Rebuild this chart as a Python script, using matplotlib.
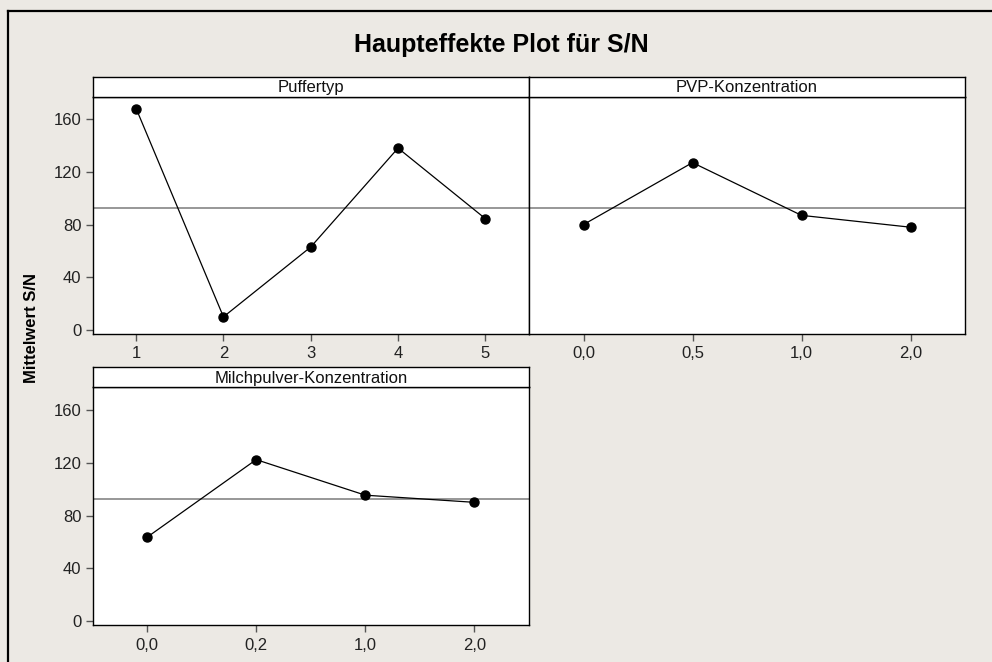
import matplotlib
matplotlib.use('Agg')
import matplotlib.pyplot as plt
import numpy as np
from matplotlib.lines import Line2D

W, H = 992, 662
BG = '#ECE9E4'

# ---- data ----
puffer_labels = ['1', '2', '3', '4', '5']
puffer_values = [168, 10, 63, 138, 84.5]
pvp_labels = ['0,0', '0,5', '1,0', '2,0']
pvp_values = [80, 127, 87, 78]
milch_labels = ['0,0', '0,2', '1,0', '2,0']
milch_values = [63.6, 122.3, 95.4, 90]
grand_mean = 92.6
yticks = [0, 40, 80, 120, 160]
title = 'Haupteffekte Plot für S/N'
ylabel = 'Mittelwert S/N'
panel_titles = ['Puffertyp', 'PVP-Konzentration', 'Milchpulver-Konzentration']

plt.rcParams['font.family'] = ['Liberation Sans', 'DejaVu Sans']

fig = plt.figure(figsize=(W / 100, H / 100), dpi=100, facecolor=BG)


def rect(x0, y0, x1, y1):
    return [x0 / W, 1 - y1 / H, (x1 - x0) / W, (y1 - y0) / H]


YMIN, YMAX = -3, 177

panels = [
    (92.5, 529, 77.3, 96.7, 334, puffer_labels, puffer_values, panel_titles[0], True),
    (529, 965, 77.3, 96.7, 334, pvp_labels, pvp_values, panel_titles[1], False),
    (92.5, 529, 366.7, 387.3, 625.3, milch_labels, milch_values, panel_titles[2], True),
]

for x0, x1, ys0, ys1, yb, labels, values, ptitle, show_y in panels:
    ax = fig.add_axes(rect(x0, ys1, x1, yb))
    ax.set_facecolor('white')
    n = len(values)
    xs = np.arange(n)
    ax.axhline(grand_mean, color='#858585', lw=1.2, zorder=1)
    ax.plot(xs, values, color='black', lw=0.9, marker='o', ms=6.5,
            mfc='black', mec='black', zorder=3)
    ax.set_xlim(-0.5, n - 0.5)
    ax.set_ylim(YMIN, YMAX)
    ax.set_xticks(xs)
    ax.set_xticklabels(labels)
    for sp in ax.spines.values():
        sp.set_color('black')
        sp.set_linewidth(1.0)
    ax.tick_params(axis='both', direction='out', length=5, width=1,
                   color='#555555', labelcolor='#222222', labelsize=12)
    ax.tick_params(axis='x', pad=4)
    ax.tick_params(axis='y', pad=3)
    if show_y:
        ax.set_yticks(yticks)
        ax.set_yticklabels([str(v) for v in yticks])
    else:
        ax.set_yticks([])

    axs = fig.add_axes(rect(x0, ys0, x1, ys1))
    axs.set_facecolor('white')
    axs.set_xticks([])
    axs.set_yticks([])
    for sp in axs.spines.values():
        sp.set_color('black')
        sp.set_linewidth(1.0)
    axs.text(0.5, 0.45, ptitle, ha='center', va='center', fontsize=12,
             color='#111111', transform=axs.transAxes)

fig.text(501 / W, 1 - 45 / H, title, ha='center', va='center',
         fontsize=18, fontweight='bold', color='black')
fig.text(31 / W, 1 - 328 / H, ylabel, ha='center', va='center',
         rotation=90, fontsize=12, fontweight='bold', color='black')

fig.add_artist(Line2D([8 / W, 8 / W], [0, 1 - 10.7 / H], color='black',
                      lw=1.6, transform=fig.transFigure))
fig.add_artist(Line2D([8 / W, 1], [1 - 10.7 / H, 1 - 10.7 / H], color='black',
                      lw=1.6, transform=fig.transFigure))

fig.savefig('out.png', dpi=100, facecolor=BG)
